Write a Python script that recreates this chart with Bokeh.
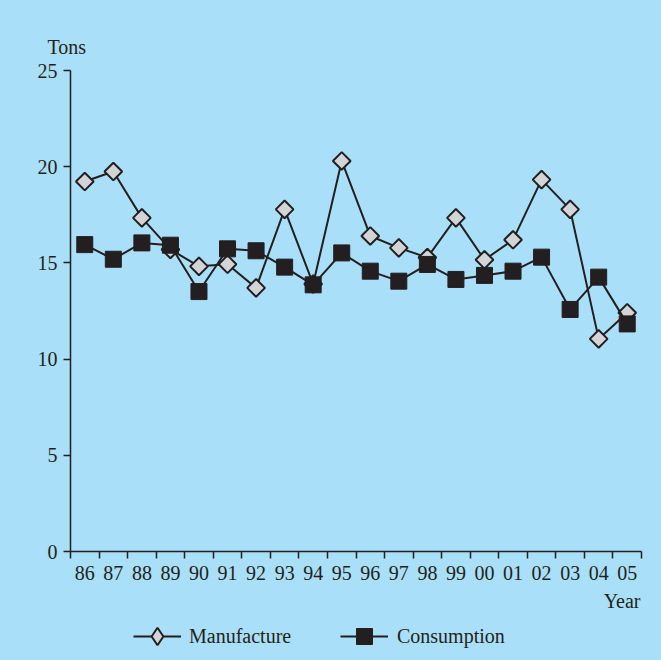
from bokeh.plotting import figure
from bokeh.models import (Range1d, FixedTicker, Legend, LegendItem, Title, ColumnDataSource)
from bokeh.layouts import column
from bokeh.embed import file_html
from bokeh.resources import INLINE
import math

years = ["86", "87", "88", "89", "90", "91", "92", "93", "94", "95",
         "96", "97", "98", "99", "00", "01", "02", "03", "04", "05"]
manufacture = [19.23, 19.75, 17.34, 15.7, 14.82, 14.93, 13.7, 17.78, 13.9, 20.3,
               16.4, 15.78, 15.28, 17.34, 15.16, 16.2, 19.33, 17.78, 11.05, 12.41]
consumption = [15.95, 15.19, 16.04, 15.92, 13.51, 15.73, 15.63, 14.78, 13.86, 15.52,
               14.57, 14.05, 14.92, 14.14, 14.35, 14.57, 15.3, 12.58, 14.26, 11.83]
y_ticks = [0, 5, 10, 15, 20, 25]

BG = "#a9dff9"
INK = "#231f20"
FONT = "Liberation Serif"

xs = list(range(len(years)))
src = ColumnDataSource(dict(x=xs, m=manufacture, c=consumption))

p = figure(frame_width=571, frame_height=481,
           min_border_left=70, min_border_top=70, min_border_right=20, min_border_bottom=70,
           x_range=Range1d(-0.5, len(years) - 0.5), y_range=Range1d(0, 25),
           output_backend="svg", toolbar_location=None,
           background_fill_color=BG, border_fill_color=BG)
p.outline_line_color = None
p.xgrid.visible = False
p.ygrid.visible = False

# x axis
xa = p.xaxis[0]
xa.ticker = FixedTicker(ticks=xs, minor_ticks=[i - 0.5 for i in range(len(years) + 1)])
xa.major_label_overrides = {i: y for i, y in enumerate(years)}
xa.major_tick_out = 0
xa.major_tick_in = 0
xa.minor_tick_out = 7
xa.minor_tick_in = 0
xa.minor_tick_line_color = INK
xa.minor_tick_line_width = 1.5
xa.major_label_standoff = 7

ya = p.yaxis[0]
ya.ticker = FixedTicker(ticks=y_ticks, minor_ticks=[])
ya.major_tick_out = 7
ya.major_tick_in = 0
ya.major_label_standoff = 6

for ax in (xa, ya):
    ax.axis_line_color = INK
    ax.axis_line_width = 1.5
    ax.major_tick_line_color = INK
    ax.major_tick_line_width = 1.5
    ax.major_label_text_font = FONT
    ax.major_label_text_font_size = "20px"
    ax.major_label_text_color = INK

MAN_STYLE = dict(marker="square", angle=math.pi / 4, size=12.5,
                 fill_color="#d3d4d6", line_color=INK, line_width=2)
CON_STYLE = dict(marker="square", size=16, fill_color=INK, line_color=INK, line_width=1)

# series
p.line("x", "m", source=src, line_color=INK, line_width=2)
p.scatter("x", "m", source=src, **MAN_STYLE)
p.line("x", "c", source=src, line_color=INK, line_width=2)
p.scatter("x", "c", source=src, **CON_STYLE)

# axis titles
tons = Title(text="Tons", align="left", offset=-23, standoff=26,
             text_font=FONT, text_font_size="20px", text_font_style="normal",
             text_color=INK)
p.add_layout(tons, "above")
year = Title(text="Year", align="right", offset=1, standoff=11,
             text_font=FONT, text_font_size="20px", text_font_style="normal",
             text_color=INK)
p.add_layout(year, "below")

# legend strip (its own small figure; sample glyphs sit outside its view)
lg = figure(width=661, height=39, min_border=0, x_axis_location=None, y_axis_location=None,
            x_range=Range1d(100, 101), y_range=Range1d(100, 101),
            output_backend="svg", toolbar_location=None,
            background_fill_alpha=0, border_fill_alpha=0)
lg.outline_line_color = None
lg.grid.visible = False
gl1 = lg.line("x", "m", source=src, line_color=INK, line_width=2)
gs1 = lg.scatter("x", "m", source=src, marker="diamond", size=12.5,
                 fill_color="#d3d4d6", line_color=INK, line_width=2)
gl2 = lg.line("x", "c", source=src, line_color=INK, line_width=2)
gs2 = lg.scatter("x", "c", source=src, **CON_STYLE)

LEG = dict(orientation="horizontal", background_fill_alpha=0, border_line_color=None,
           padding=0, margin=0, glyph_width=48,
           label_text_font=FONT, label_text_font_size="20px", label_text_color=INK)
leg1 = Legend(items=[LegendItem(label="Manufacture", renderers=[gl1, gs1])],
              location=(63, 2), glyph_height=44, label_standoff=8, **LEG)
leg2 = Legend(items=[LegendItem(label="Consumption", renderers=[gl2, gs2])],
              location=(270, 4), glyph_height=40, label_standoff=9, **LEG)
lg.add_layout(leg1, "center")
lg.add_layout(leg2, "center")

layout = column(p, lg, spacing=0, styles={"background-color": BG})
open("out.html", "w").write(file_html(layout, INLINE))
